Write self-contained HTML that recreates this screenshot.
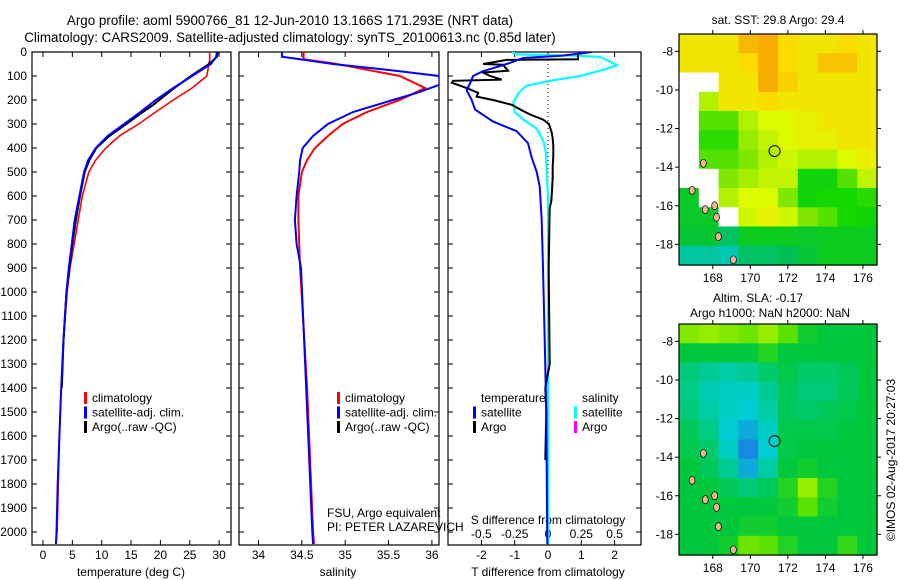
<!DOCTYPE html>
<html><head><meta charset="utf-8"><style>
body{margin:0;background:#fff;width:900px;height:580px;overflow:hidden}
svg{display:block;font-family:"Liberation Sans",sans-serif}
</style></head><body>
<svg id="fig" width="900" height="580" viewBox="0 0 900 580" xmlns="http://www.w3.org/2000/svg">
<text x="290" y="25" font-size="13.4" text-anchor="middle">Argo profile: aoml 5900766_81 12-Jun-2010 13.166S 171.293E (NRT data)</text>
<text x="290" y="42" font-size="13.4" text-anchor="middle">Climatology: CARS2009. Satellite-adjusted climatology: synTS_20100613.nc (0.85d later)</text>
<defs>
<clipPath id="c1"><rect x="32" y="52" width="199" height="493"/></clipPath>
<clipPath id="c2"><rect x="239" y="52" width="200" height="493"/></clipPath>
<clipPath id="c3"><rect x="448" y="52" width="193" height="493"/></clipPath>
</defs>
<g id="g"></g>
</svg>
<script>
// ---- data ----
const tClimDepth=[0,30,60,100,150,200,250,300,350,400,450,500,600,700,800,900,1000,1200,1400,1600,1800,2000,2050];
const tClimVal=[28.4,28.4,28.2,27.9,25.4,22.2,19.2,16.3,13.0,10.7,9.0,7.8,6.7,6.0,5.3,4.6,4.1,3.5,3.1,2.8,2.6,2.4,2.2];
const tSatDepth=[0,20,50,100,150,200,250,300,350,400,450,500,600,700,800,900,1000,1200,1400,1600,1800,2000,2050];
const tSatVal=[29.6,29.5,28.6,25.4,22.2,19.2,16.6,13.8,11.0,9.0,7.7,7.0,6.2,5.4,4.9,4.4,4.0,3.5,3.1,2.8,2.5,2.3,2.2];
const tArgoDepth=[0,20,50,100,150,200,220,250,300,350,400,450,500,600,700,800,900,1000,1200,1400];
const tArgoVal=[29.8,29.6,28.3,25.2,22.4,19.8,18.8,17.0,14.2,11.3,9.1,7.9,7.1,6.3,5.6,5.0,4.5,4.0,3.5,3.2];
const sClimDepth=[0,30,47,100,150,200,250,300,350,400,450,500,600,700,800,900,1400,2000,2050];
const sClimVal=[34.52,34.52,34.86,35.63,35.92,35.63,35.25,34.97,34.80,34.65,34.56,34.50,34.46,34.46,34.47,34.48,34.56,34.63,34.64];
const sSatDepth=[0,20,30,50,80,100,135,170,200,250,300,350,400,450,500,600,700,800,900,1400,2000,2050];
const sSatVal=[34.27,34.27,34.48,34.86,35.63,36.08,36.10,35.83,35.55,35.09,34.80,34.63,34.51,34.48,34.47,34.44,34.42,34.44,34.49,34.55,34.62,34.63];
const dTArgoDepth=[0,10,30,33,50,53,78,86,100,115,120,128,150,170,186,200,220,243,260,282,300,335,360,390,430,480,520,580,620,650,900,1300,1400,1500,1700];
const dTArgoVal=[1.0,0.9,0.9,-1.24,-1.95,-1.35,-1.2,-1.95,-1.74,-1.39,-2.85,-2.89,-2.44,-2.1,-2.14,-1.65,-1.09,-0.79,-0.54,-0.14,0.03,0.11,0.14,0.16,0.16,0.14,0.14,0.12,0.1,0.05,0.02,0.05,-0.08,-0.05,-0.08];
const dTSatDepth=[0,15,25,50,80,100,130,160,200,240,290,330,380,440,500,560,700,900,1200,1500,2050];
const dTSatVal=[1.31,0.45,-0.75,-1.24,-1.95,-2.25,-2.34,-2.44,-2.29,-2.19,-1.65,-0.94,-0.6,-0.49,-0.34,-0.25,-0.19,-0.15,-0.1,-0.05,-0.02];
const dSSatDepth=[0,10,15,20,40,55,70,100,120,140,170,210,250,280,320,370,420,500,600,900,2050];
const dSSatVal=[-0.27,-0.235,0.19,0.39,0.465,0.515,0.44,0.24,0.015,-0.16,-0.22,-0.26,-0.25,-0.19,-0.085,-0.035,-0.015,-0.01,0,0,0];
const depthTicks=[0,100,200,300,400,500,600,700,800,900,1000,1100,1200,1300,1400,1500,1600,1700,1800,1900,2000];
const tTicks=[0,5,10,15,20,25,30];
const sTicks=[34,34.5,35,35.5,36];
const sTickLabels=["34","34.5","35","35.5","36"];
const dTTicks=[-2,-1,0,1,2];
const dSTicks=[-0.5,-0.25,0,0.25,0.5];
const dSTickLabels=["-0.5","-0.25","0","0.25","0.5"];
const mapLonTicks=[168,170,172,174,176];
const mapLatTicks=[-8,-10,-12,-14,-16,-18];
const sstGrid=[
[3,3,3,3.4,3.5,3.1,3,3,3.1,3],
[3,3,3,3.1,3.5,3.1,3,3.3,3.3,3],
[null,null,3,3,3.5,3.2,3,3,3,3],
[null,2.5,3,3,3.1,3,3,3,3,3],
[null,2,2,2.5,2.8,2.8,2.9,3,3,3],
[null,1.8,1.8,2.3,2.6,2.8,2.9,2.9,3,3],
[null,2,2,2.2,2.5,2.7,2.5,2.5,2.8,2.9],
[null,null,2.2,2.4,2.6,2.6,1.6,1.6,2,2.6],
[1.3,null,2.5,2.8,2.8,2.2,1.6,1.7,1.7,1.8],
[1.3,1.3,null,2.7,2.9,2.7,2.2,2,1.7,1.6],
[1.2,1.2,0.8,1.4,1.4,1.4,1.3,1.4,1.4,1.4],
[0.4,0.4,0.3,0.8,0.8,0.9,1.2,1.4,1.4,1.4]];
const slaGrid=[
[2.7,2.8,2.7,2.6,2.8,2.5,2.1,2,2,2],
[2,2,2,2,2.2,2,2,2,2,2],
[1.6,1.4,1.3,1.4,1.7,1.9,1.7,1.7,1.8,2],
[1.5,1.2,1.1,1.1,1.4,1.8,1.6,1.6,1.8,2],
[1.6,1.3,1.1,1,1.3,1.8,1.7,1.8,1.9,2],
[1.8,1.5,1.0,0.6,1.1,1.9,1.9,1.9,2,2],
[1.9,1.7,1.1,0.2,1,1.9,2,2,2,2],
[2,1.8,1.4,0.6,1.3,2,2.1,2,2,2],
[2,2,1.8,1.6,1.8,2.2,2.8,2.2,2,2],
[2,2,2,2,2,2.1,2.5,2.1,2,2],
[2,2,2,2.1,2.1,2,2,2,2,2],
[2,2,2.1,2.6,2.5,2.2,2,2,2.3,2]];
const argoLon=171.293, argoLat=-13.166;
const islandLon=[166.9,167.6,168.1,168.3,167.5,169.1,168.2];
const islandLat=[-15.2,-16.2,-16.0,-17.6,-13.8,-18.8,-16.6];

// ---- helpers ----
const NS="http://www.w3.org/2000/svg";
const root=document.getElementById('g');
function mk(tag,attrs,parent){const e=document.createElementNS(NS,tag);for(const k in attrs)e.setAttribute(k,attrs[k]);(parent||root).appendChild(e);return e;}
function txt(x,y,s,size,anchor,parent){const e=mk('text',{x:x,y:y,'font-size':size,'text-anchor':anchor||'middle'},parent);e.textContent=s;return e;}
const yD=d=>52+0.24*d;
const xT=t=>43+5.87*t;
const xS=s=>258.5+86.7*(s-34);
const xDT=t=>548+33.3*t;
const xDS=s=>548+133.2*s;

depthTicks.forEach(d=>{const e=txt(27,yD(d)+4,String(d),12,'end');

});

function panel(x0,w,name){
 const r=mk('rect',{x:x0,y:52,width:w,height:493,fill:'none',stroke:'#000','stroke-width':1.2});
 
 
 depthTicks.forEach(d=>{mk('line',{x1:x0,x2:x0+5,y1:yD(d),y2:yD(d),stroke:'#000'});mk('line',{x1:x0+w-5,x2:x0+w,y1:yD(d),y2:yD(d),stroke:'#000'});});
}
panel(32,199,'temperature-panel');panel(239,200,'salinity-panel');panel(448,193,'difference-panel');

function xticks(vals,labels,fx,lblY){
 vals.forEach((v,i)=>{const x=fx(v);
  mk('line',{x1:x,x2:x,y1:545,y2:540,stroke:'#000'});mk('line',{x1:x,x2:x,y1:52,y2:57,stroke:'#000'});
  const e=txt(x,lblY,labels[i],12);
  
  });
}
xticks(tTicks,tTicks.map(String),xT,559);
xticks(sTicks,sTickLabels,xS,559);
xticks(dTTicks,dTTicks.map(String),xDT,559);
dSTicks.forEach((v,i)=>{const e=txt(xDS(v),538,dSTickLabels[i],12);

});

let e;
e=txt(131,576,'temperature (deg C)',12);
e=txt(338,576,'salinity',12);
e=txt(548,576,'T difference from climatology',12);
e=txt(548,524,'S difference from climatology',12);
e=txt(327,517,'FSU, Argo equivalent',12,'start');
e=txt(327,531,'PI: PETER LAZAREVICH',12,'start');

e=mk('line',{x1:548,x2:548,y1:52,y2:545,stroke:'#000','stroke-dasharray':'1,3'});


function line(depths,vals,fx,color,w,clip,name){
 const pts=depths.map((d,i)=>fx(vals[i]).toFixed(1)+','+yD(d).toFixed(1)).join(' ');
 const p=mk('polyline',{points:pts,fill:'none',stroke:color,'stroke-width':w,'clip-path':'url(#'+clip+')'});
 
 
}
line(tClimDepth,tClimVal,xT,'#f00',1.6,'c1','temp-climatology-line');
line(tArgoDepth,tArgoVal,xT,'#000',2,'c1','temp-argo-line');
line(tSatDepth,tSatVal,xT,'#00f',2,'c1','temp-satellite-line');
line(sClimDepth,sClimVal,xS,'#f00',2,'c2','sal-climatology-line');
line(sSatDepth,sSatVal,xS,'#00f',2,'c2','sal-satellite-line');
line(dSSatDepth,dSSatVal,xDS,'#0ff',2.2,'c3','sal-diff-satellite-line');
line(dTArgoDepth,dTArgoVal,xDT,'#000',2,'c3','temp-diff-argo-line');
line(dTSatDepth,dTSatVal,xDT,'#00f',2,'c3','temp-diff-satellite-line');

function legend(x,y,items,name){
 items.forEach((it,i)=>{
  if(it[1]){mk('rect',{x:x,y:y+i*14.5-10,width:3,height:12,fill:it[1]});}
  const t=txt(x+8,y+i*14.5,it[0],12,'start');
  
  
 });
}
legend(84,402,[['climatology','#f00'],['satellite-adj. clim.','#00f'],['Argo(..raw -QC)','#000']],'temp-legend');
legend(337,402,[['climatology','#f00'],['satellite-adj. clim.','#00f'],['Argo(..raw -QC)','#000']],'sal-legend');
legend(473,402,[['temperature',null],['satellite','#00f'],['Argo','#000']],'t-diff-legend');
legend(574,402,[['salinity',null],['satellite','#0ff'],['Argo','#f0f']],'s-diff-legend');

function lerpCol(stops,v){
 if(v<=stops[0][0])return 'rgb('+stops[0][1].join(',')+')';
 for(let i=1;i<stops.length;i++){if(v<=stops[i][0]){const a=stops[i-1],b=stops[i],f=(v-a[0])/(b[0]-a[0]);
  return 'rgb('+[0,1,2].map(k=>Math.round(a[1][k]+(b[1][k]-a[1][k])*f)).join(',')+')';}}
 const l=stops[stops.length-1][1];return 'rgb('+l.join(',')+')';
}
const sstStops=[[0,[0,204,221]],[1,[0,190,70]],[1.7,[20,215,0]],[2.3,[150,235,0]],[2.8,[220,250,0]],[3.1,[250,220,0]],[3.6,[245,160,0]]];
const slaStops=[[0,[30,120,230]],[1,[0,205,210]],[2,[0,200,60]],[2.5,[90,225,0]],[3,[190,245,0]]];
function drawMap(y0,grid,stops,name,cls){
 const x0=679,W=198,H=231,lonMin=166.2,lonMax=176.75,latMax=-7.1,latMin=-19.07;
 const fx=lon=>x0+(lon-lonMin)/(lonMax-lonMin)*W;
 const fy=lat=>y0+(latMax-lat)/(latMax-latMin)*H;
 const g=mk('g',{});
 
 
 const rows=grid.length,cols=grid[0].length,cw=W/cols,ch=H/rows;
 grid.forEach((row,r)=>row.forEach((v,c)=>{
  const rc=mk('rect',{x:(x0+c*cw).toFixed(1),y:(y0+r*ch).toFixed(1),width:(cw+0.6).toFixed(1),height:(ch+0.6).toFixed(1),fill:v===null?'#fff':lerpCol(stops,v)},g);
  
  
 }));
 islandLon.forEach((lo,i)=>{const il=mk('ellipse',{cx:fx(lo),cy:fy(islandLat[i]),rx:3,ry:4,fill:'#f2b48c',stroke:'#000','stroke-width':0.7},g);
  
  });
 const ci=mk('circle',{cx:fx(argoLon),cy:fy(argoLat),r:5.5,fill:'none',stroke:'#000','stroke-width':1},g);
 
 
 mk('rect',{x:x0,y:y0,width:W,height:H,fill:'none',stroke:'#000','stroke-width':1.2},g);
 mapLonTicks.forEach(lo=>{const x=fx(lo);mk('line',{x1:x,x2:x,y1:y0,y2:y0-4,stroke:'#000'},g);mk('line',{x1:x,x2:x,y1:y0+H,y2:y0+H+4,stroke:'#000'},g);
  const t=txt(x,y0+H+17,String(lo),12,'middle',g);});
 mapLatTicks.forEach(la=>{const y=fy(la);mk('line',{x1:x0,x2:x0-4,y1:y,y2:y,stroke:'#000'},g);mk('line',{x1:x0+W,x2:x0+W+4,y1:y,y2:y,stroke:'#000'},g);
  const t=txt(673,y+4,String(la),12,'end',g);});
}
drawMap(34,sstGrid,sstStops,'sst-map','sst-cell');
drawMap(324,slaGrid,slaStops,'sla-map','sla-cell');
e=txt(778,24,'sat. SST: 29.8 Argo: 29.4',12);
e=txt(758,302,'Altim. SLA: -0.17',12);
e=txt(770,317,'Argo h1000: NaN h2000: NaN',12);
e=txt(0,0,'©IMOS 02-Aug-2017 20:27:03',12);e.setAttribute('transform','translate(895,460) rotate(-90)');

</script>
</body></html>
